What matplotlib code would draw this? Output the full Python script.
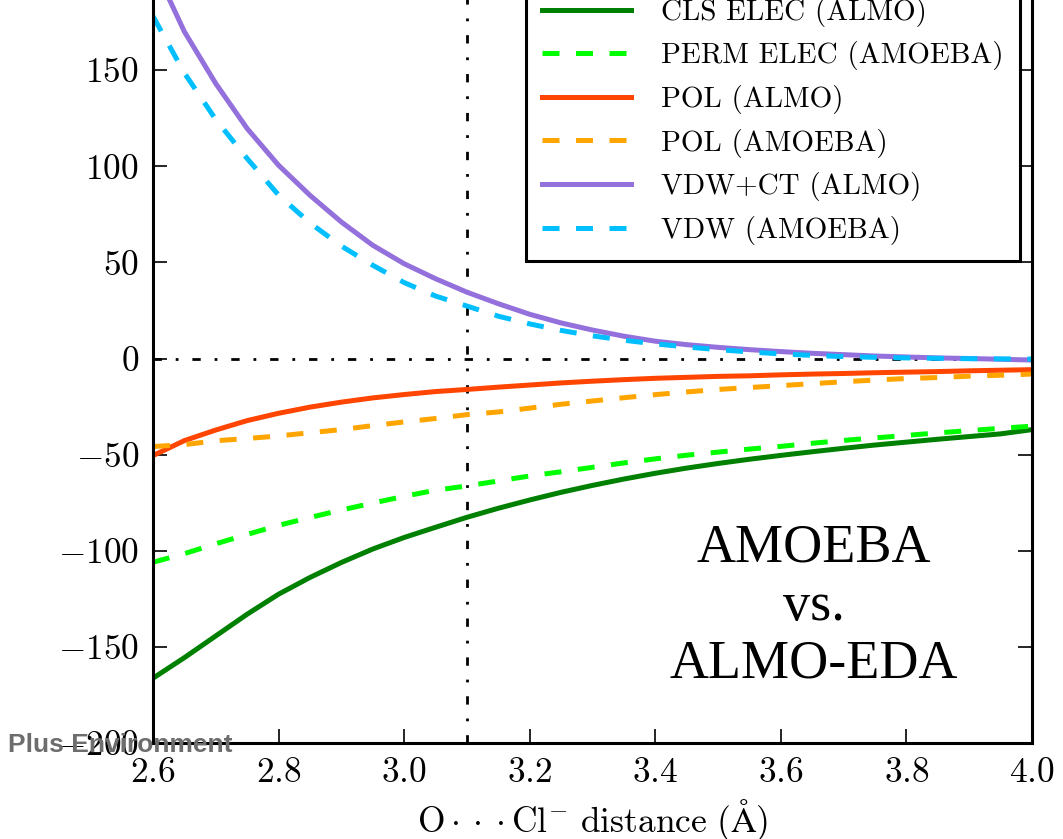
import matplotlib
matplotlib.use("Agg")
import matplotlib.pyplot as plt

#-----------------------------------------------------------------------
# donnees (pas de 0.05 A)
#-----------------------------------------------------------------------

distance = [2.60, 2.65, 2.70, 2.75, 2.80, 2.85, 2.90, 2.95, 3.00, 3.05,
            3.10, 3.15, 3.20, 3.25, 3.30, 3.35, 3.40, 3.45, 3.50, 3.55,
            3.60, 3.65, 3.70, 3.75, 3.80, 3.85, 3.90, 3.95, 4.00]

cls_elec_almo = [-166.3, -155.6, -144.3, -133.0, -122.6, -113.9, -106.1, -99.1, -93.1, -87.8,
                 -82.6, -77.9, -73.6, -69.6, -66.0, -62.7, -59.7, -57.0, -54.6, -52.4,
                 -50.4, -48.5, -46.7, -45.0, -43.5, -42.0, -40.6, -39.2, -37.0]

perm_elec_amoeba = [-106.0, -101.5, -96.4, -91.5, -86.8, -82.7, -78.8, -75.2, -71.7, -68.5,
                    -66.3, -63.7, -61.1, -58.9, -56.6, -54.3, -52.2, -50.3, -48.7, -47.1,
                    -45.7, -44.1, -42.6, -41.3, -40.0, -38.7, -37.5, -36.3, -35.2]

pol_almo = [-50.5, -42.7, -37.2, -32.3, -28.5, -25.3, -22.7, -20.5, -18.75, -17.2,
            -16.1, -14.9, -13.8, -12.7, -11.8, -11.0, -10.3, -9.8, -9.3, -9.0,
            -8.5, -8.1, -7.8, -7.4, -7.1, -6.8, -6.4, -6.1, -5.8]

pol_amoeba = [-45.8, -44.8, -42.8, -41.6, -40.3, -38.6, -37.0, -34.9, -33.0, -31.2,
              -29.2, -27.8, -25.8, -23.8, -22.1, -20.4, -18.8, -17.4, -16.1, -15.1,
              -14.1, -13.1, -12.1, -11.2, -10.4, -9.9, -9.2, -8.7, -8.1]

vdw_ct_almo = [205.0, 170.0, 143.0, 119.6, 100.5, 84.9, 71.0, 58.9, 49.3, 41.5,
               34.5, 28.5, 23.0, 18.5, 14.8, 11.6, 9.0, 7.2, 5.8, 4.6,
               3.6, 2.7, 2.0, 1.3, 0.8, 0.3, 0.0, -0.4, -0.8]

vdw_amoeba = [178.0, 148.5, 124.3, 104.0, 85.0, 70.5, 58.5, 48.5, 39.5, 32.5,
              27.3, 22.0, 18.0, 14.6, 11.8, 9.5, 7.6, 6.0, 4.6, 3.4,
              2.4, 1.6, 1.0, 0.6, 0.3, 0.1, -0.1, -0.2, -0.3]

labels = ["CLS ELEC (ALMO)", "PERM ELEC (AMOEBA)", "POL (ALMO)",
          "POL (AMOEBA)", "VDW+CT (ALMO)", "VDW (AMOEBA)"]

x_ticks = [2.6, 2.8, 3.0, 3.2, 3.4, 3.6, 3.8, 4.0]
y_ticks = [-200, -150, -100, -50, 0, 50, 100, 150, 200]

#-----------------------------------------------------------------------
# style
#-----------------------------------------------------------------------

plt.rcParams['font.family'] = 'cmr10'
plt.rcParams['mathtext.fontset'] = 'cm'
plt.rcParams['axes.formatter.use_mathtext'] = True
plt.rcParams['axes.unicode_minus'] = True

fig = plt.figure(figsize=(10.63, 8.39), dpi=100)
# l'axe depasse en haut : la figure originale est rognee
ax = fig.add_axes([153 / 1063, 96 / 839, 879 / 1063, 769 / 839])

lw = 3.6
dash = (3.4, 3.3)

ax.plot(distance, cls_elec_almo, color='green', lw=lw, label=labels[0])
ax.plot(distance, perm_elec_amoeba, color='lime', lw=lw, dashes=dash, label=labels[1])
ax.plot(distance, pol_almo, color='orangered', lw=lw, label=labels[2])
ax.plot(distance, pol_amoeba, color='orange', lw=lw, dashes=dash, label=labels[3])
ax.plot(distance, vdw_ct_almo, color='mediumpurple', lw=lw, label=labels[4])
ax.plot(distance, vdw_amoeba, color='deepskyblue', lw=lw, dashes=dash, label=labels[5])

# lignes de reference
ax.axhline(0, color='k', lw=2, dashes=(3, 5, 1, 5), zorder=1)
ax.axvline(3.1, color='k', lw=2, dashes=(3, 5, 1, 5), zorder=1)

ax.set_xlim(2.6, 4.0)
ax.set_ylim(-200, 200)
ax.set_xticks(x_ticks)
ax.set_yticks(y_ticks)
ax.tick_params(direction='in', length=10, width=1.2, labelsize=25.5, pad=10,
               top=True, right=True)
for s in ax.spines.values():
    s.set_linewidth(2.2)

ax.set_xlabel(r'$\mathrm{O\cdot\cdot\cdot Cl^{-}\ distance\ (\AA)}$', fontsize=25.5, labelpad=6)

leg = ax.legend(loc='lower right', bbox_to_anchor=(0.986, 0.627), borderaxespad=0,
                fontsize=21.0, handlelength=3.06, handletextpad=1.02, labelspacing=0.5,
                borderpad=0.55, fancybox=False, framealpha=1)
leg.get_frame().set_edgecolor('k')
leg.get_frame().set_linewidth(2.2)

ax.text(3.653, -129, "AMOEBA\nvs.\nALMO-EDA", family='Liberation Serif', fontsize=39,
        ha='center', va='center', multialignment='center', linespacing=1.2)

fig.text(8 / 1063, 1 - 745 / 839, "Plus Environment", family='Liberation Sans',
         weight='bold', fontsize=19, color='#6d6d6d', va='center', ha='left', zorder=10)

fig.savefig("out.png", dpi=100)
